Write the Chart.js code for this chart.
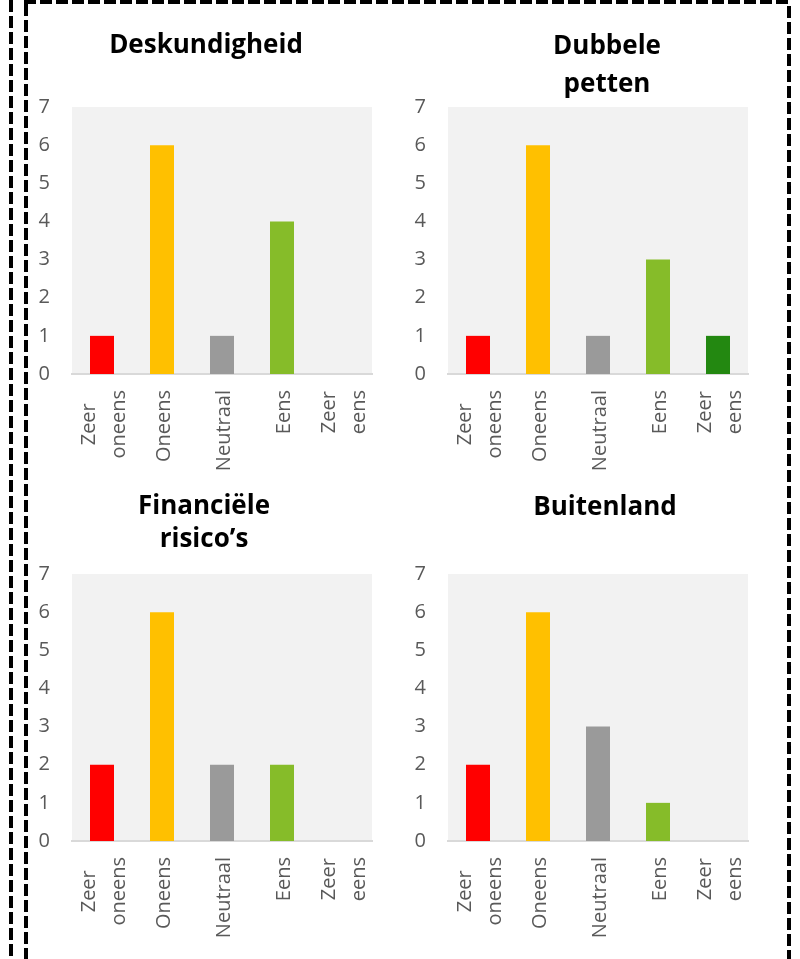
<!DOCTYPE html>
<html>
<head>
<meta charset="utf-8">
<script src="https://cdn.jsdelivr.net/npm/chart.js"></script>
<style>
  html, body { margin: 0; padding: 0; background: #fff; }
  #page { position: relative; width: 800px; height: 959px; overflow: hidden; }
  #frame { position: absolute; left: 0; top: 0; }
  .panel { position: absolute; width: 360px; height: 470px; }
</style>
</head>
<body>
<div id="page">
  <svg id="frame" width="800" height="959">
    <g stroke="#000" stroke-width="4" stroke-dasharray="12 4" fill="none">
      <line x1="11" y1="0" x2="11" y2="959"/>
      <line x1="26" y1="4" x2="26" y2="959"/>
      <line x1="24" y1="2" x2="791" y2="2"/>
      <line x1="789" y1="6" x2="789" y2="959"/>
    </g>
  </svg>
  <div class="panel" style="left:30px;top:0px"><canvas id="c0" width="360" height="470"></canvas></div>
  <div class="panel" style="left:406px;top:0px"><canvas id="c1" width="360" height="470"></canvas></div>
  <div class="panel" style="left:30px;top:467px"><canvas id="c2" width="360" height="470"></canvas></div>
  <div class="panel" style="left:406px;top:467px"><canvas id="c3" width="360" height="470"></canvas></div>
</div>
<script>
// data
const categories = [["Zeer", "oneens"], "Oneens", "Neutraal", "Eens", ["Zeer", "eens"]];
const yMax = 7;
const deskundigheid = [1, 6, 1, 4, 0];
const dubbelePetten = [1, 6, 1, 3, 1];
const financieleRisicos = [2, 6, 2, 2, 0];
const buitenland = [2, 6, 3, 1, 0];
const titles = [["Deskundigheid"], ["Dubbele", "petten"], ["Financiële", "risico’s"], ["Buitenland"]];

const barColors = ["#ff0000", "#ffc000", "#9a9a9a", "#86bc29", "#238811"];
const textGray = "#595959";
const labelFont = "20px 'Open Sans'";
const titleFont = "bold 26px 'Open Sans'";

// title placement per panel (canvas coords): centre x, baselines
const titlePos = [
  { x: 176, ys: [53] },
  { x: 201, ys: [54, 92] },
  { x: 174, ys: [47, 80] },
  { x: 199, ys: [48] }
];

const panels = [
  { id: "c0", values: deskundigheid },
  { id: "c1", values: dubbelePetten },
  { id: "c2", values: financieleRisicos },
  { id: "c3", values: buitenland }
];

// grey plot area
const plotBg = {
  id: "plotBg",
  beforeDraw(chart) {
    const { ctx, chartArea: a } = chart;
    ctx.save();
    ctx.fillStyle = "#f2f2f2";
    ctx.fillRect(a.left, a.top, a.right - a.left, a.bottom - a.top);
    ctx.restore();
  }
};

// title + rotated category labels (lines centred in block like Excel)
const panelText = {
  id: "panelText",
  afterDraw(chart, args, opts) {
    const ctx = chart.ctx;
    ctx.save();
    ctx.fillStyle = "#000";
    ctx.font = titleFont;
    ctx.textAlign = "center";
    ctx.textBaseline = "alphabetic";
    opts.title.forEach((line, j) => ctx.fillText(line, opts.pos.x, opts.pos.ys[j]));

    const xs = chart.scales.x;
    const top = chart.chartArea.bottom + 16;
    ctx.font = labelFont;
    ctx.fillStyle = textGray;
    chart.data.labels.forEach((lab, i) => {
      const lines = Array.isArray(lab) ? lab : [lab];
      const maxW = Math.max(...lines.map(l => ctx.measureText(l).width));
      const cx = xs.getPixelForValue(i);
      ctx.save();
      ctx.translate(cx, top);
      ctx.rotate(-Math.PI / 2);
      lines.forEach((l, j) => {
        const off = (j - (lines.length - 1) / 2) * 30 + 8;
        ctx.fillText(l, -maxW / 2, off);
      });
      ctx.restore();
    });
    ctx.restore();
  }
};

panels.forEach((p, k) => {
  new Chart(document.getElementById(p.id), {
    type: "bar",
    data: {
      labels: categories,
      datasets: [{
        data: p.values,
        backgroundColor: barColors,
        borderWidth: 0,
        barPercentage: 0.4,
        categoryPercentage: 1
      }]
    },
    options: {
      responsive: false,
      devicePixelRatio: 1,
      animation: false,
      layout: { padding: { top: 107, right: 18, bottom: 0, left: 0 } },
      plugins: {
        legend: { display: false },
        tooltip: { enabled: false },
        panelText: { title: titles[k], pos: titlePos[k] }
      },
      scales: {
        x: {
          grid: { display: false, drawTicks: false },
          border: { display: true, color: "#d9d9d9", width: 2 },
          ticks: { display: false },
          afterFit: s => { s.height = 96; }
        },
        y: {
          min: 0,
          max: yMax,
          grid: { display: false, drawTicks: false },
          border: { display: false },
          ticks: { stepSize: 1, color: textGray, font: { family: "Open Sans", size: 20 }, padding: 22 },
          afterFit: s => { s.width = 42; }
        }
      }
    },
    plugins: [plotBg, panelText]
  });
});
</script>
</body>
</html>
